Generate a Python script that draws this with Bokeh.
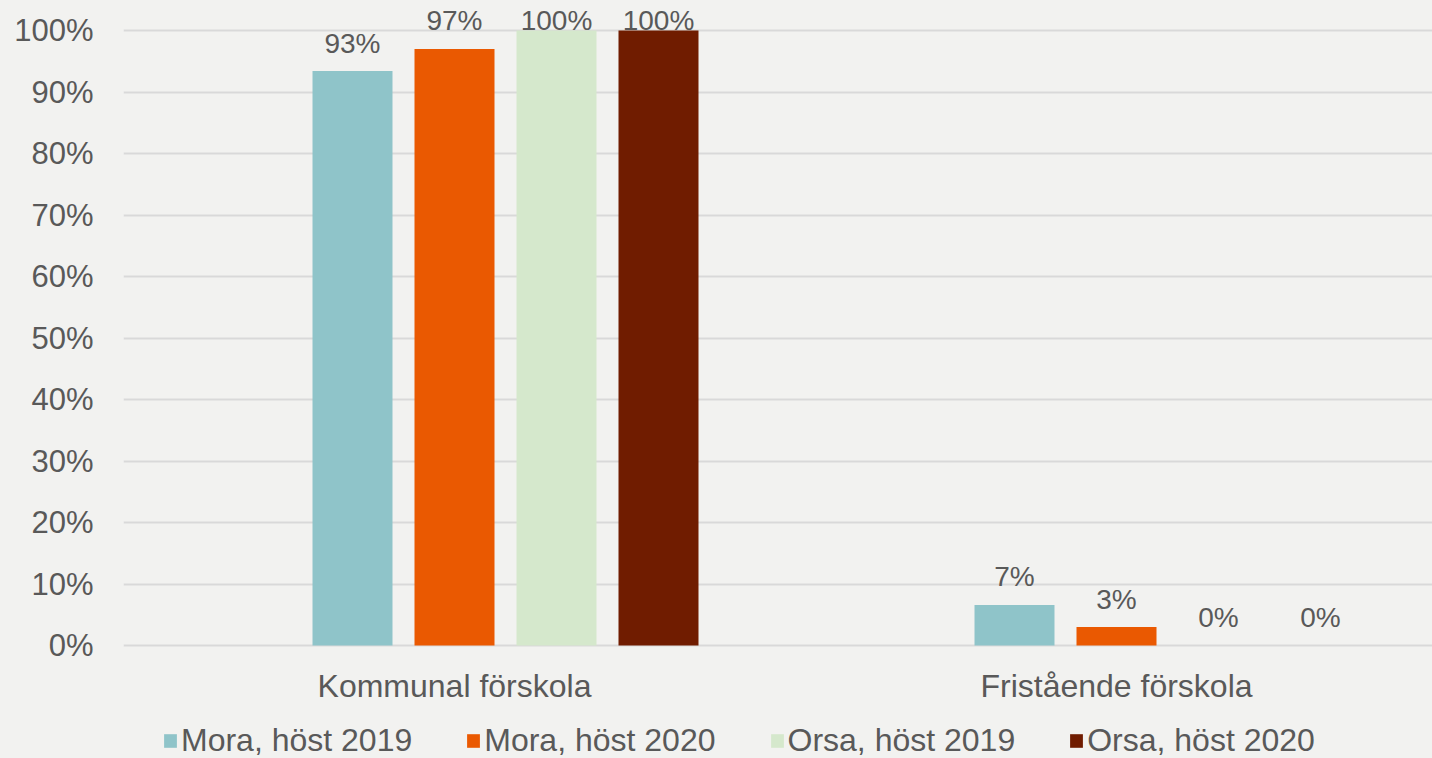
import numpy as np
from bokeh.plotting import figure
from bokeh.layouts import column
from bokeh.models import ColumnDataSource, Range1d, FixedTicker, Legend, LegendItem
from bokeh.core.properties import value
from bokeh.embed import file_html
from bokeh.resources import INLINE

# ---- data ----
categories = ["Kommunal förskola", "Fristående förskola"]
series_names = ["Mora, höst 2019", "Mora, höst 2020", "Orsa, höst 2019", "Orsa, höst 2020"]
mora_2019 = [0.934, 0.066]
mora_2020 = [0.970, 0.030]
orsa_2019 = [1.000, 0.000]
orsa_2020 = [1.000, 0.000]
y_ticks = [0.0, 0.1, 0.2, 0.3, 0.4, 0.5, 0.6, 0.7, 0.8, 0.9, 1.0]
y_tick_labels = ["0%", "10%", "20%", "30%", "40%", "50%", "60%", "70%", "80%", "90%", "100%"]

series_values = [mora_2019, mora_2020, orsa_2019, orsa_2020]
colors = ["#8FC4C9", "#EA5901", "#D5E8CC", "#701C00"]

BG = "#F2F2F0"
TXT = "#595959"
FONT = "Liberation Sans"

main = figure(width=1432, height=710, output_backend="svg", toolbar_location=None,
              x_range=Range1d(-0.5, -0.5 + 1309 / 662), y_range=Range1d(-3 / 615, 1 + 30 / 615),
              min_border_left=123, min_border_right=0, min_border_top=0, min_border_bottom=62,
              background_fill_color=BG, border_fill_color=BG, outline_line_color=None)

slot = 102 / 662
bar_w = 80 / 662
offsets = [-slot, 0.0, slot, 2 * slot]
xs = np.arange(len(categories))

sources = []
for name, vals, col, off in zip(series_names, series_values, colors, offsets):
    vals = np.array(vals)
    src = ColumnDataSource(dict(
        x=xs + off, top=vals,
        ly=np.minimum(vals, 0.9707),
        lbl=[f"{round(v * 100):.0f}%" for v in vals],
    ))
    sources.append(src)
    main.vbar(x="x", top="top", width=bar_w, bottom=0, source=src,
              fill_color=col, line_color=None)
    main.text(x="x", y="ly", text="lbl", source=src, text_align="center",
              text_baseline="alphabetic", y_offset=-28,
              text_font=value(FONT), text_font_size="28px", text_color=TXT)

# axes
main.xaxis.ticker = FixedTicker(ticks=list(xs))
main.xaxis.major_label_overrides = {int(i): c for i, c in zip(xs, categories)}
main.xaxis.axis_line_color = None
main.xaxis.major_tick_line_color = None
main.xaxis.minor_tick_line_color = None
main.xaxis.major_tick_out = 0
main.xaxis.major_label_standoff = 19
main.xaxis.major_label_text_font = FONT
main.xaxis.major_label_text_font_size = "32px"
main.xaxis.major_label_text_color = TXT

main.yaxis.ticker = FixedTicker(ticks=y_ticks)
main.yaxis.major_label_overrides = {t: l for t, l in zip(y_ticks, y_tick_labels)}
main.yaxis.axis_line_color = None
main.yaxis.major_tick_line_color = None
main.yaxis.minor_tick_line_color = None
main.yaxis.major_tick_out = 0
main.yaxis.major_label_standoff = 30
main.yaxis.major_label_text_font = FONT
main.yaxis.major_label_text_font_size = "31px"
main.yaxis.major_label_text_color = TXT

main.xgrid.grid_line_color = None
main.ygrid.ticker = FixedTicker(ticks=y_ticks)
main.ygrid.grid_line_color = "#D9D9D9"
main.ygrid.grid_line_width = 2

# ---- legend strip (separate figure below the chart) ----
leg = figure(width=1432, height=48, output_backend="svg", toolbar_location=None,
             x_range=Range1d(10, 11), y_range=Range1d(10, 11),
             x_axis_location=None, y_axis_location=None,
             min_border_left=0, min_border_right=0, min_border_top=0, min_border_bottom=0,
             background_fill_color=BG, border_fill_color=BG, outline_line_color=None)
leg.grid.visible = False
leg_renderers = []
for src, col in zip(sources, colors):
    leg_renderers.append(leg.vbar(x="x", top="top", width=bar_w, bottom=0, source=src,
                                  fill_color=col, line_color=None))

legend = Legend(items=[LegendItem(label=n, renderers=[r]) for n, r in zip(series_names, leg_renderers)],
                orientation="horizontal", location=(39, -1),
                glyph_width=16, glyph_height=17, label_standoff=3, spacing=53,
                padding=0, margin=0,
                label_text_font=FONT, label_text_font_size="32px", label_text_color=TXT,
                background_fill_alpha=0, border_line_color=None)
leg.add_layout(legend)

p = column(main, leg, spacing=0, styles={"background-color": BG})

open("out.html", "w").write(file_html(p, INLINE))
